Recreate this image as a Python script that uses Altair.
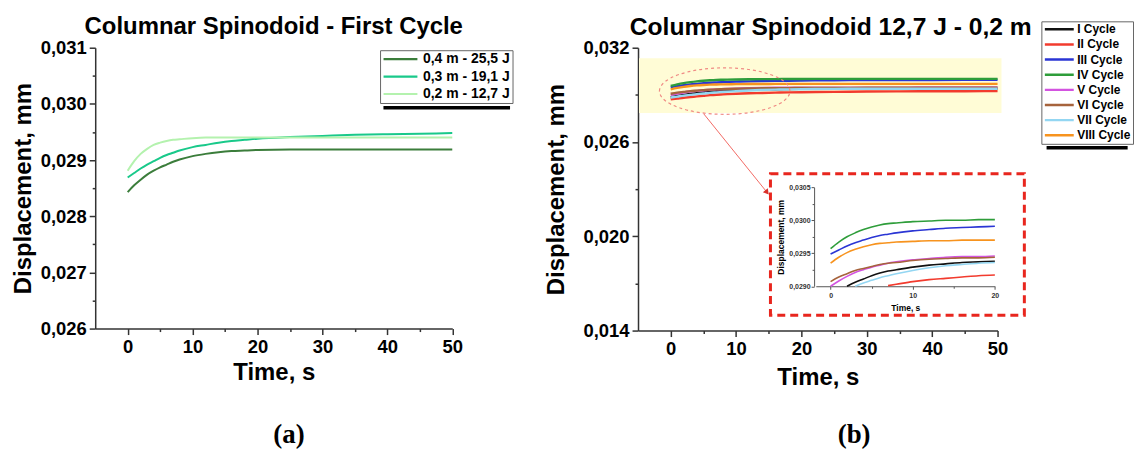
import altair as alt
import pandas as pd

FONT = "Liberation Sans"

# ---------------- data ----------------
T = [0, 1, 2, 3, 4, 5, 6, 7, 8, 10, 12, 14, 16, 18, 20, 25, 30, 35, 40, 45, 50]

A_SERIES = ["0,4 m - 25,5 J", "0,3 m - 19,1 J", "0,2 m - 12,7 J"]
A_COLORS = ["#3b7d3b", "#19c98a", "#b4f2ae"]
A_04 = [0.02843, 0.02855, 0.02865, 0.02874, 0.02881, 0.02887, 0.02892, 0.02897, 0.02901,
        0.02907, 0.02911, 0.02914, 0.02916, 0.02917, 0.02918, 0.02919, 0.02919, 0.02919,
        0.02919, 0.02919, 0.02919]
A_03 = [0.02869, 0.02877, 0.02885, 0.02892, 0.02898, 0.02904, 0.02909, 0.02913, 0.02917,
        0.02923, 0.02927, 0.02931, 0.02934, 0.02936, 0.02938, 0.02941, 0.02943, 0.02945,
        0.02946, 0.02947, 0.02948]
A_02 = [0.02881, 0.02898, 0.02911, 0.02920, 0.02927, 0.02931, 0.02934, 0.02936, 0.02937,
        0.02939, 0.02940, 0.02940, 0.02940, 0.02940, 0.02940, 0.02940, 0.02940, 0.02940,
        0.02940, 0.02940, 0.02940]

B_CYCLES = ["I Cycle", "II Cycle", "III Cycle", "IV Cycle", "V Cycle", "VI Cycle",
            "VII Cycle", "VIII Cycle"]
B_COLORS = ["#111111", "#f23b2e", "#2a35d4", "#2e9d3a", "#d354e0", "#a6633c",
            "#93d6f2", "#f7931e"]
B_I = [0.02885, 0.02893, 0.02900, 0.02906, 0.02911, 0.02916, 0.02920, 0.02923, 0.02925,
       0.02929, 0.02932, 0.02934, 0.02936, 0.02937, 0.02938, 0.02939, 0.02940, 0.02940,
       0.02940, 0.02940, 0.02940]
B_II = [0.02872, 0.02877, 0.02882, 0.02886, 0.02890, 0.02894, 0.02898, 0.02901, 0.02903,
        0.02907, 0.02910, 0.02912, 0.02914, 0.02916, 0.02917, 0.02919, 0.02921, 0.02922,
        0.02923, 0.02923, 0.02924]
B_III = [0.02949, 0.02955, 0.02961, 0.02966, 0.02970, 0.02974, 0.02977, 0.02979, 0.02981,
         0.02984, 0.02986, 0.02988, 0.02989, 0.02990, 0.02991, 0.02993, 0.02994, 0.02995,
         0.02995, 0.02996, 0.02996]
B_IV = [0.02957, 0.02967, 0.02975, 0.02981, 0.02986, 0.02990, 0.02993, 0.02995, 0.02996,
        0.02998, 0.02999, 0.03000, 0.03000, 0.03001, 0.03001, 0.03002, 0.03002, 0.03002,
        0.03002, 0.03002, 0.03002]
B_V = [0.02900, 0.02908, 0.02915, 0.02921, 0.02925, 0.02929, 0.02932, 0.02935, 0.02937,
       0.02940, 0.02942, 0.02944, 0.02945, 0.02945, 0.02946, 0.02946, 0.02946, 0.02946,
       0.02947, 0.02947, 0.02947]
B_VI = [0.02907, 0.02914, 0.02919, 0.02924, 0.02927, 0.02930, 0.02933, 0.02935, 0.02936,
        0.02939, 0.02941, 0.02942, 0.02943, 0.02943, 0.02944, 0.02944, 0.02945, 0.02945,
        0.02945, 0.02945, 0.02945]
B_VII = [0.02883, 0.02889, 0.02895, 0.02900, 0.02905, 0.02909, 0.02913, 0.02916, 0.02919,
         0.02924, 0.02928, 0.02931, 0.02933, 0.02935, 0.02936, 0.02938, 0.02939, 0.02939,
         0.02939, 0.02939, 0.02939]
B_VIII = [0.02935, 0.02944, 0.02951, 0.02956, 0.02960, 0.02963, 0.02965, 0.02966, 0.02967,
          0.02968, 0.02969, 0.02969, 0.02970, 0.02970, 0.02970, 0.02970, 0.02970, 0.02970,
          0.02970, 0.02970, 0.02970]

X_TICKS = [0, 5, 10, 15, 20, 25, 30, 35, 40, 45, 50]
A_Y_TICKS = [0.026, 0.0265, 0.027, 0.0275, 0.028, 0.0285, 0.029, 0.0295, 0.030, 0.0305, 0.031]
B_Y_TICKS = [0.014, 0.017, 0.020, 0.023, 0.026, 0.029, 0.032]
IN_X_TICKS = [0, 5, 10, 15, 20]
IN_Y_TICKS = [0.029, 0.02925, 0.0295, 0.02975, 0.030, 0.03025, 0.0305]


def long_df(names, arrays):
    rows = []
    for n, arr in zip(names, arrays):
        for t, v in zip(T, arr):
            rows.append({"t": t, "v": v, "s": n})
    return pd.DataFrame(rows)


df_a = long_df(A_SERIES, [A_04, A_03, A_02])
df_b = long_df(B_CYCLES, [B_I, B_II, B_III, B_IV, B_V, B_VI, B_VII, B_VIII])

# annotation positions (data units)
yellow_df = pd.DataFrame([{"x0": -4.85, "x1": 50.6, "y0": 0.02785, "y1": 0.03133}])
ellipse_df = pd.DataFrame([{"x": 8.26, "y": 0.02924}])
arrow_df = pd.DataFrame([{"x0": 5.06, "y0": 0.02779, "x1": 14.65, "y1": 0.02284}])
box_df = pd.DataFrame([{"x0": 15.26, "x1": 54.1, "y0": 0.01498, "y1": 0.02398}])
shadow_a_df = pd.DataFrame([{"x0": 39.4, "x1": 58.9, "y": 0.02993}])
shadow_b_df = pd.DataFrame([{"x0": 57.5, "x1": 69.9, "y": 0.02563}])
label_a_df = pd.DataFrame([{"x": 24.84, "y": 0.02411, "label": "(a)"}])
label_b_df = pd.DataFrame([{"x": 28.06, "y": 0.00738, "label": "(b)"}])

# ---------------- styling helpers ----------------
AX_COMMON = dict(
    grid=False, domainColor="#333333", domainWidth=1.5, tickColor="#333333", tickWidth=1.5,
    labelFont=FONT, labelFontWeight="bold", labelColor="black", titleFont=FONT,
    titleFontWeight="bold", titleColor="black", labelOverlap=False, labelFlush=False,
)


def x_axis(title_pad):
    return alt.Axis(
        values=X_TICKS, title="Time, s", titleFontSize=24, titlePadding=title_pad,
        labelFontSize=18.5, labelPadding=3,
        labelExpr="datum.value % 10 == 0 ? datum.label : ''",
        tickSize={"condition": {"test": "datum.value % 10 != 0", "value": 3}, "value": 6},
        **AX_COMMON,
    )


X_AXIS_A = x_axis(5)
X_AXIS_B = x_axis(8)

Y_AXIS_A = alt.Axis(
    values=A_Y_TICKS, title="Displacement, mm", titleFontSize=24, titlePadding=4.6,
    labelFontSize=18.5, labelPadding=3, labelBaseline="middle",
    labelExpr="round(datum.value*2000) % 2 == 0 ? replace(format(datum.value, '.3f'), '.', ',') : ''",
    tickSize={"condition": {"test": "round(datum.value*2000) % 2 == 1", "value": 3}, "value": 6},
    **AX_COMMON,
)

Y_AXIS_B = alt.Axis(
    values=B_Y_TICKS, title="Displacement, mm", titleFontSize=24, titlePadding=15,
    labelFontSize=18.5, labelPadding=3, labelBaseline="middle",
    labelExpr="round((datum.value-0.014)*1000/3) % 2 == 0 ? replace(format(datum.value, '.3f'), '.', ',') : ''",
    tickSize={"condition": {"test": "round((datum.value-0.014)*1000/3) % 2 == 1", "value": 3}, "value": 6},
    **AX_COMMON,
)

XS_A = alt.Scale(domain=[-5, 50], nice=False, zero=False)
YS_A = alt.Scale(domain=[0.026, 0.031], nice=False, zero=False)
XS_B = alt.Scale(domain=[-5, 50], nice=False, zero=False)
YS_B = alt.Scale(domain=[0.014, 0.032], nice=False, zero=False)


def xa(f):
    return alt.X(f, scale=XS_A, axis=X_AXIS_A)


def ya(f):
    return alt.Y(f, scale=YS_A, axis=Y_AXIS_A)


def xb(f):
    return alt.X(f, scale=XS_B, axis=X_AXIS_B)


def yb(f):
    return alt.Y(f, scale=YS_B, axis=Y_AXIS_B)


# ---------------- panel (a) ----------------
lines_a = alt.Chart(df_a).mark_line(strokeWidth=2, interpolate="monotone").encode(
    x=xa("t:Q"),
    y=ya("v:Q"),
    color=alt.Color(
        "s:N", scale=alt.Scale(domain=A_SERIES, range=A_COLORS),
        legend=alt.Legend(
            title=None, orient="none", legendX=286, legendY=2.5, symbolType="stroke",
            symbolSize=1156, symbolStrokeWidth=2.2, labelFont=FONT, labelFontSize=14,
            labelFontWeight="bold", labelColor="black", labelOffset=4, padding=2,
            rowPadding=3.5, clipHeight=14, strokeColor="#666666", fillColor="white",
        ),
    ),
)

shadow_a = alt.Chart(shadow_a_df).mark_rule(color="black", strokeWidth=3.5).encode(
    x=xa("x0:Q"), x2="x1:Q", y=ya("y:Q"),
)

label_a = alt.Chart(label_a_df).mark_text(
    font="Liberation Serif", fontSize=27, fontWeight="bold", baseline="middle", align="center",
    color="black",
).encode(x=xa("x:Q"), y=ya("y:Q"), text="label:N")

panel_a = alt.layer(lines_a, shadow_a, label_a).properties(
    width=358.5, height=282,
    title=alt.TitleParams(
        "Columnar Spinodoid - First Cycle", font=FONT, fontSize=24, fontWeight="bold",
        color="black", anchor="middle", frame="group", offset=0,
    ),
)

# ---------------- panel (b) ----------------
yellow = alt.Chart(yellow_df).mark_rect(color="#fffcd6").encode(
    x=xb("x0:Q"), x2="x1:Q", y=yb("y0:Q"), y2="y1:Q",
)

lines_b = alt.Chart(df_b).mark_line(strokeWidth=2.4, interpolate="monotone").encode(
    x=xb("t:Q"),
    y=yb("v:Q"),
    color=alt.Color(
        "s:N", scale=alt.Scale(domain=B_CYCLES, range=B_COLORS),
        legend=alt.Legend(
            title=None, orient="none", legendX=405, legendY=-26.5, symbolType="stroke",
            symbolSize=841, symbolStrokeWidth=2.4, labelFont=FONT, labelFontSize=12,
            labelFontWeight="bold", labelColor="black", labelOffset=2, padding=2,
            rowPadding=3.2, clipHeight=12, strokeColor="#666666", fillColor="white",
        ),
    ),
)

ELLIPSE = ("M-1,0 C-1,-0.1966 -0.5523,-0.356 0,-0.356 C0.5523,-0.356 1,-0.1966 1,0 "
           "C1,0.1966 0.5523,0.356 0,0.356 C-0.5523,0.356 -1,0.1966 -1,0 Z")
ellipse = alt.Chart(ellipse_df).mark_point(
    shape=ELLIPSE, size=17161, filled=False, stroke="#f08a84", strokeWidth=1.2,
    strokeDash=[3, 3], opacity=1,
).encode(x=xb("x:Q"), y=yb("y:Q"))

arrow = alt.Chart(arrow_df).mark_rule(color="#f26a64", strokeWidth=1).encode(
    x=xb("x0:Q"), x2="x1:Q", y=yb("y0:Q"), y2="y1:Q",
)
arrow_head = alt.Chart(arrow_df).mark_point(
    shape="triangle", size=40, filled=True, color="#d9302a", angle=141, opacity=1,
).encode(x=xb("x1:Q"), y=yb("y1:Q"))

box = alt.Chart(box_df).mark_rect(
    fillOpacity=0, stroke="#e8261e", strokeWidth=3, strokeDash=[8, 5],
).encode(x=xb("x0:Q"), x2="x1:Q", y=yb("y0:Q"), y2="y1:Q")

shadow_b = alt.Chart(shadow_b_df).mark_rule(color="black", strokeWidth=3.5).encode(
    x=xb("x0:Q"), x2="x1:Q", y=yb("y:Q"),
)

label_b = alt.Chart(label_b_df).mark_text(
    font="Liberation Serif", fontSize=27, fontWeight="bold", baseline="middle", align="center",
    color="black",
).encode(x=xb("x:Q"), y=yb("y:Q"), text="label:N")

main_b = alt.layer(yellow, lines_b, ellipse, arrow, arrow_head, box, shadow_b, label_b)

IN_COMMON = dict(
    grid=False, domainColor="#555555", domainWidth=1, tickColor="#555555", tickWidth=1,
    labelFont=FONT, labelFontWeight="bold", labelColor="#333333", labelFontSize=7,
    titleFont=FONT, titleFontWeight="bold", titleColor="black", titleFontSize=8.5,
    labelOverlap=False, labelFlush=False,
)
inset_x_axis = alt.Axis(
    orient="bottom", offset=-44.5, values=IN_X_TICKS, title="Time, s", titlePadding=5,
    labelPadding=2, labelExpr="datum.value % 10 == 0 ? datum.label : ''",
    tickSize={"condition": {"test": "datum.value % 10 != 0", "value": 2}, "value": 3},
    **IN_COMMON,
)
inset_y_axis = alt.Axis(
    orient="left", offset=-176.8, values=IN_Y_TICKS, title="Displacement, mm",
    titlePadding=3.5, labelPadding=1, labelBaseline="middle",
    labelExpr="round((datum.value-0.029)*4000) % 2 == 0 ? replace(format(datum.value, '.4f'), '.', ',') : ''",
    tickSize={"condition": {"test": "round((datum.value-0.029)*4000) % 2 == 1", "value": 2}, "value": 3},
    **IN_COMMON,
)

inset = alt.Chart(df_b).transform_filter(
    "datum.t <= 20 && datum.v >= 0.029"
).mark_line(strokeWidth=1.6, interpolate="monotone").encode(
    x=alt.X("t:Q", scale=alt.Scale(domain=[-1.8, 20], range=[178.5, 358.3], nice=False, zero=False),
            axis=inset_x_axis),
    y=alt.Y("v:Q", scale=alt.Scale(domain=[0.029, 0.0305], range=[239.5, 140.2], nice=False, zero=False),
            axis=inset_y_axis),
    color=alt.Color("s:N", scale=alt.Scale(domain=B_CYCLES, range=B_COLORS), legend=None),
)

panel_b = alt.layer(main_b, inset).resolve_scale(
    x="independent", y="independent", color="independent"
).properties(
    width=361, height=284,
    title=alt.TitleParams(
        "Columnar Spinodoid 12,7 J - 0,2 m", font=FONT, fontSize=24.7, fontWeight="bold",
        color="black", anchor="middle", frame="group", offset=-19, dx=13,
    ),
)

chart = alt.hconcat(panel_a, panel_b, spacing=186, bounds="flush").resolve_scale(
    color="independent"
).properties(
    padding={"left": 11.6, "top": 14, "right": 0, "bottom": 0},
    background="white",
).configure_view(strokeWidth=0)

chart.save("out.html", embed_options={"renderer": "svg", "actions": False})
